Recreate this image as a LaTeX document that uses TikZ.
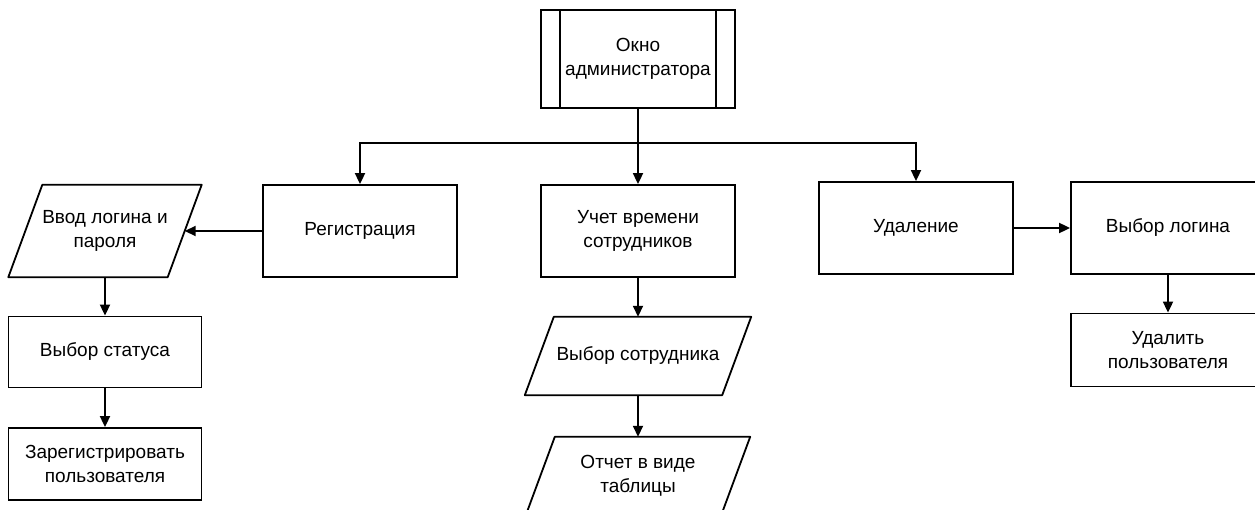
\documentclass[tikz,border=0pt]{standalone}
\usepackage{fontspec}
\setmainfont{Liberation Sans}
\usetikzlibrary{arrows.meta}
\tikzset{x=1pt, y=-1pt,
every node/.style={ % Sets the text for each block
font=\fontsize{19}{23.5}\selectfont,
align=center,
inner sep=0pt},
block/.style={ % Plain process box
draw,
line width=1.8pt,
rectangle,
minimum width=194pt,
minimum height=92pt},
io/.style={ % Input / output parallelogram, #1 is the slant
rectangle,
minimum height=78pt,
append after command={\pgfextra{
\draw[line width=1.8pt, line join=round] ([xshift=#1]\tikzlastnode.north west) -- (\tikzlastnode.north east)
-- ([xshift=-#1]\tikzlastnode.south east) -- (\tikzlastnode.south west) -- cycle;}}},
io/.default=29pt,
link/.style={ % Sets the properties for each connector
draw,
line width=1.8pt,
-{Triangle[length=11pt,width=10pt]}}}
\begin{document}
\begin{tikzpicture}
	\useasboundingbox (0,0) rectangle (1255,510);
	\node[block, minimum height=98pt] (admin) at (638,59) {Окно\\администратора};
	\draw[line width=1.8pt] ([xshift=20pt]admin.north west) -- ([xshift=20pt]admin.south west);
	\draw[line width=1.8pt] ([xshift=-20pt]admin.north east) -- ([xshift=-20pt]admin.south east);
	\coordinate (bus) at (638,143);
	\node[block] (reg) at (360,231) {Регистрация};
	\node[block] (uchet) at (638,231) {Учет времени\\сотрудников};
	\node[block] (udal) at (916,228) {Удаление};
	\node[block] (vlogin) at (1168,228) {Выбор логина};
	\node[block, minimum height=73pt] (udpol) at (1168,350) {Удалить\\пользователя};
	\node[io=34pt, minimum width=193pt, minimum height=92pt] (vvod) at (105,231) {Ввод логина и\\пароля};
	\node[block, minimum width=193pt, minimum height=71pt] (status) at (105,352) {Выбор статуса};
	\node[block, minimum width=193pt, minimum height=72pt] (zareg) at (105,464) {Зарегистрировать\\пользователя};
	\node[io, minimum width=226pt] (vsotr) at (638,356) {Выбор сотрудника};
	\node[io, minimum width=224pt] (otchet) at (638,476) {Отчет в виде\\таблицы};
	\draw[line width=1.8pt] (admin.south) -- (bus);
	\draw[link] (bus) -| (reg.north);
	\draw[link] (bus) -- (uchet.north);
	\draw[link] (bus) -| (udal.north);
	\draw[link] (reg.west) -- ([xshift=-17pt]vvod.east);
	\draw[link] (vvod.south) -- (status.north);
	\draw[link] (status.south) -- (zareg.north);
	\draw[link] (uchet.south) -- (vsotr.north);
	\draw[link] (vsotr.south) -- (otchet.north);
	\draw[link] (udal.east) -- (vlogin.west);
	\draw[link] (vlogin.south) -- (udpol.north);
\end{tikzpicture}
\end{document}
